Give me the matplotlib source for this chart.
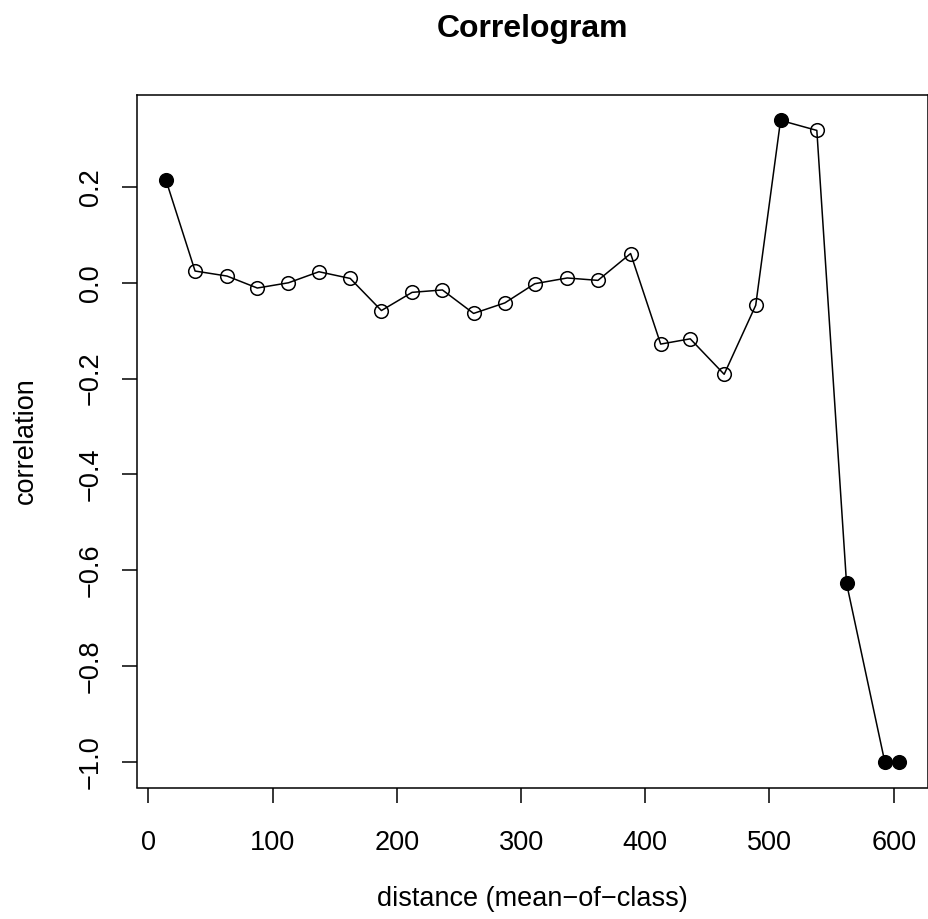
import matplotlib
matplotlib.use("Agg")
import matplotlib.pyplot as plt
import numpy as np

plt.rcParams['font.family'] = ['Liberation Sans', 'DejaVu Sans']

distance = [14.2, 37.6, 63.3, 87.7, 112.8, 137.3, 162.5, 187.6, 212.3, 236.7,
            261.8, 287.0, 311.0, 337.2, 361.9, 388.2, 412.4, 436.2, 463.5, 488.9,
            508.9, 538.1, 562.0, 592.8, 604.0]
correlation = [0.214, 0.0245, 0.014, -0.011, 0.0, 0.023, 0.009, -0.058, -0.020, -0.015,
               -0.064, -0.042, -0.002, 0.010, 0.005, 0.061, -0.128, -0.117, -0.191, -0.047,
               0.339, 0.318, -0.627, -1.0, -1.0]
significant = [True, False, False, False, False, False, False, False, False, False,
               False, False, False, False, False, False, False, False, False, False,
               True, False, True, True, True]
xticks = [0, 100, 200, 300, 400, 500, 600]
yticks = [-1.0, -0.8, -0.6, -0.4, -0.2, 0.0, 0.2]

W, H = 929, 919
fig = plt.figure(figsize=(W / 100, H / 100), dpi=100)
ax = fig.add_axes([136.7 / W, 1 - 787.5 / H, (928 - 136.7) / W, (787.5 - 94.7) / H])

x = np.array(distance)
y = np.array(correlation)
sig = np.array(significant)

lw = 1.1
ax.plot(x, y, color='black', lw=lw, zorder=2)
ax.plot(x[~sig], y[~sig], ls='none', marker='o', ms=9.8, mfc='none', mec='black', mew=lw, zorder=3)
ax.plot(x[sig], y[sig], ls='none', marker='o', ms=9.8, mfc='black', mec='black', mew=lw, zorder=3)

xr = x.max() - x.min()
yr = y.max() - y.min()
ax.set_xlim(x.min() - 0.04 * xr, x.max() + 0.04 * xr)
ax.set_ylim(y.min() - 0.04 * yr, y.max() + 0.04 * yr)

fs = 19.5
ax.set_xticks(xticks)
ax.set_xticklabels([str(v) for v in xticks], fontsize=fs)
ax.set_yticks(yticks)
ax.set_yticklabels([f"{v:.1f}".replace('-', '\u2212') for v in yticks], fontsize=fs,
                   rotation=90, va='center')
ax.tick_params(axis='both', direction='out', length=10.8, width=lw, color='black')
ax.tick_params(axis='x', pad=19.5)
ax.tick_params(axis='y', pad=13)
for s in ax.spines.values():
    s.set_linewidth(lw)

fig.text(532.3 / W, 1 - 37.5 / H, "Correlogram", fontsize=23, fontweight='bold',
         ha='center', va='baseline')
fig.text(532.3 / W, 1 - 906 / H, "distance (mean\u2212of\u2212class)", fontsize=fs,
         ha='center', va='baseline')
fig.text(33 / W, 1 - 441.1 / H, "correlation", fontsize=fs, rotation=90,
         rotation_mode='anchor', ha='center', va='baseline')

fig.savefig("out.png", dpi=100)
